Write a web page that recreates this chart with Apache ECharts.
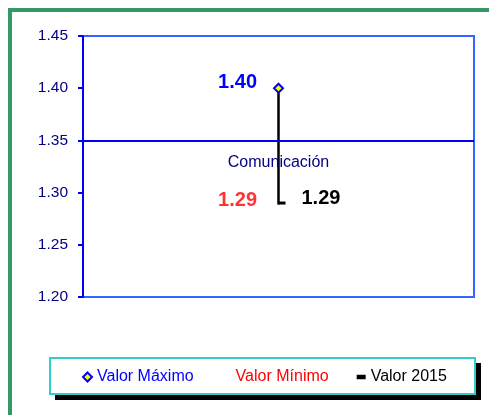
<!DOCTYPE html>
<html>
<head>
<meta charset="utf-8">
<script src="https://cdn.jsdelivr.net/npm/echarts@6/dist/echarts.min.js"></script>
<style>
html,body{margin:0;padding:0;background:#fff;}
#chart{width:489px;height:415px;}
</style>
</head>
<body>
<div id="chart"></div>
<script>
const categories = ['Comunicación'];
const valorMaximo = [1.40];
const valorMinimo = [1.29];
const valor2015 = [1.29];
const yMin = 1.20, yMax = 1.45, yInterval = 0.05;
const crossValue = 1.35;

const chart = echarts.init(document.getElementById('chart'));
const font = 'Arial, "Liberation Sans", sans-serif';

const option = {
  animation: false,
  backgroundColor: '#ffffff',
  graphic: [
    { type: 'rect', z: -10, shape: { x: 10, y: 10, width: 600, height: 600 },
      style: { fill: '#ffffff', stroke: '#339966', lineWidth: 4 } },
    { type: 'rect', z: -6, shape: { x: 55, y: 363, width: 426, height: 37 },
      style: { fill: '#000000' } },
    { type: 'rect', z: -5, shape: { x: 50, y: 358, width: 425, height: 36 },
      style: { fill: '#ffffff', stroke: '#33CCCC', lineWidth: 2 } }
  ],
  grid: { left: 83, right: 15, top: 36, bottom: 118, show: true,
          borderColor: '#3366FF', borderWidth: 2, backgroundColor: 'transparent' },
  legend: {
    left: 82, top: 369, padding: 0, itemGap: 28, itemWidth: 9, itemHeight: 9,
    textStyle: { fontFamily: font, fontSize: 16 },
    data: [
      { name: 'Valor Máximo', icon: 'diamond',
        itemStyle: { color: '#FFFF00', borderColor: '#0000FF', borderWidth: 2 },
        textStyle: { color: '#0000FF' } },
      { name: 'Valor Mínimo', icon: 'rect',
        itemStyle: { color: 'rgba(0,0,0,0)', borderWidth: 0 },
        textStyle: { color: '#FF0000' } },
      { name: 'Valor 2015', icon: 'path://M0,0h6v3h-6z',
        itemStyle: { color: '#000000', borderWidth: 0 },
        textStyle: { color: '#000000' } }
    ]
  },
  xAxis: {
    type: 'category', data: categories, boundaryGap: true,
    axisLine: { show: false }, axisTick: { show: false }, axisLabel: { show: false },
    splitLine: { show: false }
  },
  yAxis: {
    type: 'value', min: yMin, max: yMax, interval: yInterval,
    axisLine: { show: true, lineStyle: { color: '#0000FF', width: 2 } },
    axisTick: { show: true, length: 5, lineStyle: { color: '#0000FF', width: 2 } },
    axisLabel: { color: '#000080', fontFamily: font, fontSize: 15.5, margin: 15,
                 formatter: v => v.toFixed(2) },
    splitLine: { show: false }
  },
  series: [
    {
      name: 'hl', type: 'custom', z: 1,
      data: [[0, valorMaximo[0], valorMinimo[0]]],
      renderItem: function (params, api) {
        const p1 = api.coord([api.value(0), api.value(1)]);
        const p2 = api.coord([api.value(0), api.value(2)]);
        return { type: 'line', shape: { x1: p1[0], y1: p1[1], x2: p2[0], y2: p2[1] + 1.5 },
                 style: { stroke: '#000000', lineWidth: 2.5 } };
      },
      markLine: {
        silent: true, symbol: ['none', 'none'],
        lineStyle: { color: '#0000FF', width: 2, type: 'solid' },
        label: { show: true, position: 'insideMiddleBottom', distance: 14,
                 formatter: () => categories[0],
                 color: '#000080', fontFamily: font, fontSize: 16 },
        data: [{ yAxis: crossValue }]
      }
    },
    {
      name: 'Valor Máximo', type: 'scatter', z: 3,
      data: valorMaximo,
      symbol: 'diamond', symbolSize: 9,
      itemStyle: { color: '#FFFF00', borderColor: '#0000FF', borderWidth: 2, opacity: 1 },
      label: { show: true, position: 'left', distance: 16, offset: [0, -6],
               formatter: p => p.value.toFixed(2),
               color: '#0000FF', fontFamily: font, fontSize: 20, fontWeight: 'bold' }
    },
    {
      name: 'Valor Mínimo', type: 'scatter', z: 3,
      data: valorMinimo,
      symbol: 'rect', symbolSize: 1,
      itemStyle: { color: 'rgba(0,0,0,0)' },
      label: { show: true, position: 'left', distance: 21, offset: [0, -3],
               formatter: p => p.value.toFixed(2),
               color: '#FF0000', fontFamily: font, fontSize: 20, fontWeight: 'bold' }
    },
    {
      name: 'Valor 2015', type: 'scatter', z: 3,
      data: valor2015,
      symbol: 'rect', symbolSize: [7, 3], symbolOffset: [3.5, 0],
      itemStyle: { color: '#000000', opacity: 1 },
      label: { show: true, position: 'right', distance: 16, offset: [0, -5],
               formatter: p => p.value.toFixed(2),
               color: '#000000', fontFamily: font, fontSize: 20, fontWeight: 'bold' }
    }
  ]
};
chart.setOption(option);
</script>
</body>
</html>
